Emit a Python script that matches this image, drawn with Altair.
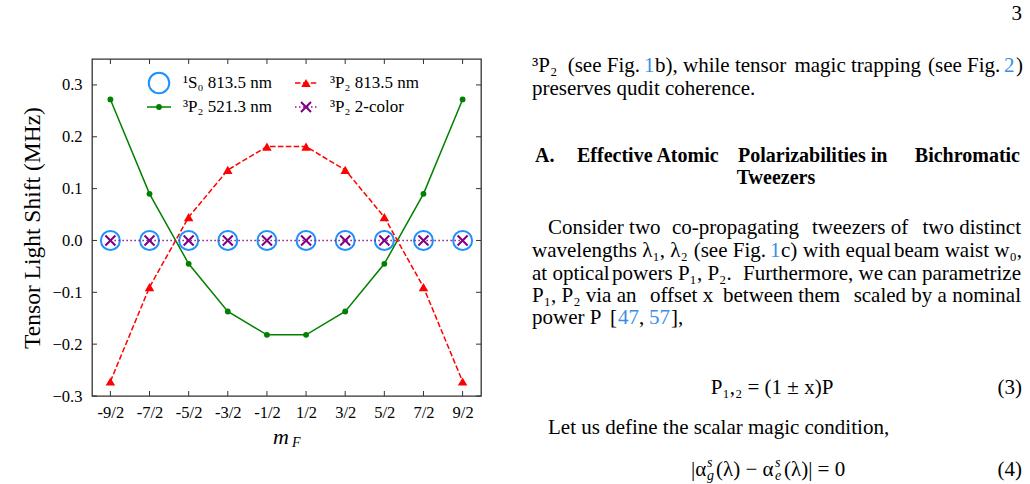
import altair as alt
import pandas as pd

# ---------------- data ----------------
m_F = [-4.5, -3.5, -2.5, -1.5, -0.5, 0.5, 1.5, 2.5, 3.5, 4.5]
s0_813 = [0.0, 0.0, 0.0, 0.0, 0.0, 0.0, 0.0, 0.0, 0.0, 0.0]
p2_521 = [0.272, 0.090, -0.045, -0.137, -0.182, -0.182, -0.137, -0.045, 0.090, 0.272]
p2_813 = [-0.272, -0.090, 0.045, 0.136, 0.181, 0.181, 0.136, 0.045, -0.090, -0.272]
p2_2color = [0.0, 0.0, 0.0, 0.0, 0.0, 0.0, 0.0, 0.0, 0.0, 0.0]
y_ticks = [-0.3, -0.2, -0.1, 0.0, 0.1, 0.2, 0.3]
legend_labels = ["¹S₀ 813.5 nm", "³P₂ 813.5 nm", "³P₂ 521.3 nm", "³P₂ 2-color"]
y_title = "Tensor Light Shift (MHz)"

# ---------------- layout ----------------
W, H = 389, 337
LEFT, TOP = 92, 59
SERIF = "Liberation Serif"
BLUE = "#1e90ff"
LINK = "#3a8ee6"

df = pd.DataFrame({"m": m_F, "s0": s0_813, "p521": p2_521,
                   "p813": p2_813, "p2c": p2_2color})

xs = alt.Scale(domain=[-4.97, 4.97], nice=False, zero=False)
ys = alt.Scale(domain=[-0.3, 0.35], nice=False, zero=False)

x_axis = alt.Axis(values=m_F,
                  labelExpr="(datum.value < 0 ? '-' : '') + format(abs(datum.value) * 2, 'd') + '/2'",
                  tickSize=0, domain=False, grid=False, labelPadding=8,
                  labelFont=SERIF, labelFontSize=16.5, labelColor="black",
                  labelOverlap=False, labelFlush=False, title="")
y_axis = alt.Axis(values=y_ticks, format=".1f", tickSize=0, domain=False, grid=False,
                  labelPadding=10, labelFont=SERIF, labelFontSize=16.5, labelColor="black",
                  labelOverlap=False, labelFlush=False,
                  title=y_title, titleFont=SERIF, titleFontSize=23.5,
                  titleFontWeight="normal", titleColor="black",
                  titleX=-60, titleY=H / 2, titleAngle=270,
                  titleAlign="center", titleBaseline="middle")


def X(f="m:Q"):
    return alt.X(f, scale=xs, axis=x_axis, title="")


def Y(f):
    return alt.Y(f, scale=ys, axis=y_axis, title=y_title)


base = alt.Chart(df)

blue = base.mark_point(shape="circle", filled=False, size=361, strokeWidth=2,
                       color=BLUE, opacity=1).encode(x=X(), y=Y("s0:Q"))
green_line = base.mark_line(color="green", strokeWidth=1.5).encode(x=X(), y=Y("p521:Q"))
green_pts = base.mark_point(shape="circle", filled=True, size=34, color="green",
                            opacity=1).encode(x=X(), y=Y("p521:Q"))
red_line = base.mark_line(color="red", strokeWidth=1.5,
                          strokeDash=[5.5, 2.4]).encode(x=X(), y=Y("p813:Q"))
red_pts = base.mark_point(shape="triangle-up", filled=True, size=90, color="red",
                          opacity=1).encode(x=X(), y=Y("p813:Q"))
pur_line = base.mark_line(color="#8b1a8b", strokeWidth=1.5,
                          strokeDash=[1.5, 2.5]).encode(x=X(), y=Y("p2c:Q"))
XSHAPE = "M-1,-1L1,1M-1,1L1,-1"
pur_pts = base.mark_point(shape=XSHAPE, filled=False, size=100, strokeWidth=2,
                          color="purple", opacity=1).encode(x=X(), y=Y("p2c:Q"))

# inward ticks on all four sides
xt = alt.Chart(pd.DataFrame({"m": m_F}))
yt = alt.Chart(pd.DataFrame({"v": y_ticks}))
FR = "#333333"
ticks = [
    xt.mark_rule(color=FR, strokeWidth=1).encode(x=X(), y=alt.value(H), y2=alt.value(H - 5)),
    xt.mark_rule(color=FR, strokeWidth=1).encode(x=X(), y=alt.value(0), y2=alt.value(5)),
    yt.mark_rule(color=FR, strokeWidth=1).encode(y=Y("v:Q"), x=alt.value(0), x2=alt.value(5)),
    yt.mark_rule(color=FR, strokeWidth=1).encode(y=Y("v:Q"), x=alt.value(W), x2=alt.value(W - 5)),
]


def one():
    return alt.Chart(pd.DataFrame({"k": [0]}))


def txt(s, px, py, size=16, color="black", weight="normal", style="normal",
        align="left"):
    return alt.Chart(pd.DataFrame({"t": [s]})).mark_text(
        align=align, baseline="middle", font=SERIF, fontSize=size,
        fontWeight=weight, fontStyle=style, color=color
    ).encode(text="t:N", x=alt.value(px - LEFT), y=alt.value(py - TOP))


def P(px):
    return px - LEFT


def Q(py):
    return py - TOP


# ---------------- legend (inside the plot) ----------------
LF = 17
leg = [
    one().mark_point(shape="circle", filled=False, size=420, strokeWidth=2, color=BLUE,
                     opacity=1).encode(x=alt.value(P(159)), y=alt.value(Q(83))),
    txt(legend_labels[0], 183, 83, size=LF),
    one().mark_rule(color="red", strokeWidth=1.5, strokeDash=[5.5, 2.4]).encode(
        x=alt.value(P(295)), x2=alt.value(P(317)), y=alt.value(Q(83))),
    one().mark_point(shape="triangle-up", filled=True, size=90, color="red",
                     opacity=1).encode(x=alt.value(P(306)), y=alt.value(Q(83))),
    txt(legend_labels[1], 330, 83, size=LF),
    one().mark_rule(color="green", strokeWidth=1.5).encode(
        x=alt.value(P(147)), x2=alt.value(P(171)), y=alt.value(Q(107))),
    one().mark_point(shape="circle", filled=True, size=34, color="green",
                     opacity=1).encode(x=alt.value(P(159)), y=alt.value(Q(107))),
    txt(legend_labels[2], 183, 107, size=LF),
    one().mark_rule(color="#8b1a8b", strokeWidth=1.5, strokeDash=[1.5, 2.5]).encode(
        x=alt.value(P(295)), x2=alt.value(P(317)), y=alt.value(Q(107))),
    one().mark_point(shape=XSHAPE, filled=False, size=100, strokeWidth=2, color="purple",
                     opacity=1).encode(x=alt.value(P(306)), y=alt.value(Q(107))),
    txt(legend_labels[3], 330, 107, size=LF),
]

# x-axis title m_F
xlab = [
    txt("m", 273, 437, size=22, style="italic"),
    txt("F", 292, 443, size=14, style="italic"),
]

# ---------------- page text to the right ----------------
PT = 21
HB = 20
page = [
    txt("3", 1022, 14, size=PT, align="right"),
    # paragraph end
    txt("³P₂", 532, 66, size=PT),
    txt("(see Fig.", 640, 66, size=PT, align="right"),
    txt("1", 644, 66, size=PT, color=LINK),
    txt("b), while tensor", 655, 66, size=PT),
    txt("magic trapping", 921, 66, size=PT, align="right"),
    txt("(see Fig.", 928, 66, size=PT),
    txt("2", 1004, 66, size=PT, color=LINK),
    txt(")", 1023, 66, size=PT, align="right"),
    txt("preserves qudit coherence.", 532, 89, size=PT),
    # section heading
    txt("A.", 535, 156, size=HB, weight="bold"),
    txt("Effective Atomic", 577, 156, size=HB, weight="bold"),
    txt("Polarizabilities in", 738, 156, size=HB, weight="bold"),
    txt("Bichromatic", 1020, 156, size=HB, weight="bold", align="right"),
    txt("Tweezers", 776, 178, size=HB, weight="bold", align="center"),
    # paragraph
    txt("Consider two", 548, 228, size=PT),
    txt("co-propagating", 672, 228, size=PT),
    txt("tweezers of", 812, 228, size=PT),
    txt("two distinct", 1021, 228, size=PT, align="right"),
    txt("wavelengths λ₁, λ₂", 532, 251, size=PT),
    txt("(see Fig.", 766, 251, size=PT, align="right"),
    txt("1", 770, 251, size=PT, color=LINK),
    txt("c)", 781, 251, size=PT),
    txt("with equal", 803, 251, size=PT),
    txt("beam waist w₀,", 1022, 251, size=PT, align="right"),
    txt("at optical", 532, 274, size=PT),
    txt("powers P₁, P₂.", 612, 274, size=PT),
    txt("Furthermore, we", 743, 274, size=PT),
    txt("can parametrize", 1021, 274, size=PT, align="right"),
    txt("P₁, P₂ via an", 532, 296, size=PT),
    txt("offset x", 650, 296, size=PT),
    txt("between them", 723, 296, size=PT),
    txt("scaled by a nominal", 1021, 296, size=PT, align="right"),
    txt("power P", 532, 318, size=PT),
    txt("[", 610, 318, size=PT),
    txt("47", 618, 318, size=PT, color=LINK),
    txt(",", 639, 318, size=PT),
    txt("57", 649, 318, size=PT, color=LINK),
    txt("],", 671, 318, size=PT),
    # equation 3
    txt("P₁,₂ = (1 ± x)P", 772, 388, size=PT, align="center"),
    txt("(3)", 1022, 388, size=PT, align="right"),
    txt("Let us define the scalar magic condition,", 548, 428, size=PT),
    # equation 4
    txt("|α", 691, 470, size=PT),
    txt("s", 707, 463, size=14, style="italic"),
    txt("g", 707, 476, size=14, style="italic"),
    txt("(λ) − α", 716, 470, size=PT),
    txt("s", 775, 463, size=14, style="italic"),
    txt("e", 775, 476, size=14, style="italic"),
    txt("(λ)| = 0", 784, 470, size=PT),
    txt("(4)", 1022, 470, size=PT, align="right"),
]

chart = alt.layer(
    blue, green_line, green_pts, red_line, red_pts, pur_line, pur_pts,
    *ticks, *leg, *xlab, *page
).properties(
    width=W, height=H,
    autosize=alt.AutoSizeParams(type="none"),
    padding={"left": LEFT, "top": TOP, "right": 1030 - LEFT - W, "bottom": 484 - TOP - H},
    background="white",
).configure_view(stroke=FR, strokeWidth=1.3)

chart.save("out.html", embed_options={"renderer": "svg", "actions": False})
